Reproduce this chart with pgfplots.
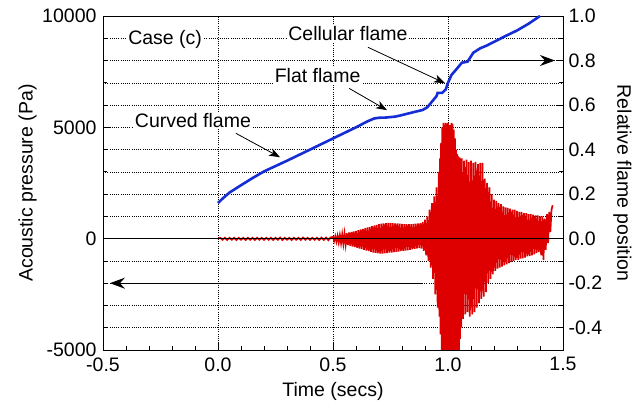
\documentclass[border=0pt]{standalone}
\usepackage{fontspec}
\setmainfont{Liberation Sans}
\usepackage{pgfplots}
\pgfplotsset{compat=1.18}
\usetikzlibrary{arrows.meta}
\definecolor{flameblue}{RGB}{20,45,215}
\definecolor{pred}{RGB}{222,0,0}
\newcommand{\lfont}{\fontsize{19.5}{21}\selectfont}
\pgfplotsset{
  common/.style={
    scale only axis, width=460pt, height=334pt,
    at={(0,0)}, anchor=south west,
    xmin=-0.5, xmax=1.5,
    tick align=inside,
    major tick length=7pt, minor tick length=4pt,
    every tick/.style={black, line width=0.8pt},
    axis line style={line width=0.9pt},
    tick label style={font=\lfont},
    scaled ticks=false,
    /pgf/number format/assume math mode=true,
  },
}
\begin{document}
\begin{tikzpicture}
\useasboundingbox (-103pt,-53pt) rectangle (531pt,350pt);
\begin{axis}[common,
    ymin=-5000, ymax=10000,
    xtick={-0.5,0,0.5,1,1.5},
    xticklabels={-0.5,0.0,0.5,1.0,1.5},
    minor x tick num=4,
    ytick={-5000,0,5000,10000},
    yticklabels={-5000,0,5000,10000},
    minor y tick num=4,
    xtick pos=bottom, ytick pos=left,
    xmajorgrids, ymajorgrids, yminorgrids,
    grid style={black, line width=0.6pt, dash pattern=on 1pt off 1.2pt},
    minor grid style={black, line width=0.5pt, dash pattern=on 1pt off 1.2pt},
    xticklabel style={yshift=-4pt},
    yticklabel style={xshift=-3pt},
    xlabel={Time (secs)},
    ylabel={Acoustic pressure (Pa)},
    every axis x label/.style={at={(axis description cs:0.5,-0.125)}, anchor=center, font=\lfont},
    every axis y label/.style={at={(axis description cs:-0.164,0.5)}, anchor=center, rotate=90, font=\lfont},
]
% acoustic pressure signal (Pa), oscillation read off the envelope
\addplot[pred, line width=1.7pt, line join=miter] coordinates {
(0.00,0) (0.01,40) (0.02,-50) (0.03,40) (0.04,-60) (0.05,40) (0.06,-50) (0.07,40)
(0.08,-60) (0.09,40) (0.10,-50) (0.11,40) (0.12,-60) (0.13,40) (0.14,-50) (0.15,40)
(0.16,-60) (0.17,40) (0.18,-50) (0.19,40) (0.20,-60) (0.21,40) (0.22,-50) (0.23,40)
(0.24,-60) (0.25,40) (0.26,-50) (0.27,50) (0.28,-60) (0.29,40) (0.30,-50) (0.31,40)
(0.32,-60) (0.33,40) (0.34,-50) (0.35,40) (0.36,-60) (0.37,50) (0.38,-50) (0.39,40)
(0.40,-60) (0.41,40) (0.42,-50) (0.43,40) (0.44,-60) (0.45,50) (0.46,-60) (0.47,50)
(0.48,-70) (0.49,60) (0.50,80)
(0.505,-100) (0.510,110) (0.515,-130) (0.520,130) (0.525,-170) (0.530,160) (0.535,-200)
(0.540,190) (0.545,-230) (0.550,220) (0.555,-260) (0.560,250) (0.565,-290) (0.570,280)
(0.575,-320) (0.580,300) (0.585,-350) (0.590,330) (0.595,-380) (0.600,350) (0.605,-410)
(0.610,380) (0.615,-440) (0.620,410) (0.625,-470) (0.630,440) (0.635,-500) (0.640,470)
(0.645,-530) (0.650,500) (0.655,-560) (0.660,530) (0.665,-590) (0.670,560) (0.675,-620)
(0.680,590) (0.685,-640) (0.690,620) (0.695,-660) (0.700,650) (0.705,-670) (0.710,670)
(0.715,-670) (0.720,690) (0.725,-660) (0.730,700) (0.735,-650) (0.740,710) (0.745,-630)
(0.750,700) (0.755,-620) (0.760,700) (0.765,-600) (0.770,690) (0.775,-590) (0.780,680)
(0.785,-580) (0.790,670) (0.795,-560) (0.800,660) (0.805,-550) (0.810,650) (0.815,-540)
(0.820,650) (0.825,-520) (0.830,650) (0.835,-500) (0.840,650) (0.845,-480) (0.850,660)
(0.855,-460) (0.860,670) (0.865,-440) (0.870,680) (0.875,-420) (0.880,700) (0.885,-450)
(0.890,750) (0.895,-550) (0.900,850)
(0.905,-750) (0.910,1000) (0.915,-1000) (0.920,1300) (0.925,-1300) (0.930,1600) (0.935,-1800)
(0.940,1900) (0.945,-2500) (0.950,2300) (0.955,-3100)
(0.9600,3000) (0.9625,-3500) (0.9650,3600) (0.9675,-4300) (0.9700,4300) (0.9725,-5000)
(0.9750,5000) (0.9775,-5500) (0.9800,5200) (0.9825,-5500) (0.9850,5100) (0.9875,-5500)
(0.9900,5200) (0.9925,-5500) (0.9950,5150) (0.9975,-5500) (1.0000,5200) (1.0025,-5500)
(1.0050,5100) (1.0075,-5500) (1.0100,5100) (1.0125,-5500) (1.0150,5200) (1.0175,-5500)
(1.0200,5150) (1.0225,-5500) (1.0250,4900) (1.0275,-5500) (1.0300,4500) (1.0325,-5500)
(1.0350,4000) (1.0375,-5500) (1.0400,3800) (1.0425,-5300) (1.0450,3700) (1.0475,-5000)
(1.0500,3650) (1.0525,-4500) (1.0550,3600) (1.0575,-4000) (1.0600,3600)
(1.065,-3600) (1.070,3500) (1.075,-3400)
(1.080,3550) (1.085,-3300) (1.090,3450) (1.095,-3500) (1.100,3500) (1.105,-3400) (1.110,3400)
(1.115,-3300) (1.120,3450) (1.125,-3100) (1.130,3350) (1.135,-2900) (1.140,3400) (1.145,-2700)
(1.150,3400) (1.155,-2600) (1.160,2700) (1.165,-2400) (1.170,2500) (1.175,-2000) (1.180,2300)
(1.185,-1800) (1.190,2000) (1.195,-1600) (1.200,1750) (1.205,-1450) (1.210,1700) (1.215,-1350)
(1.220,1600) (1.225,-1300) (1.230,1550) (1.235,-1250) (1.240,1450) (1.245,-1200) (1.250,1400)
(1.255,-1150) (1.260,1380) (1.265,-1100) (1.270,1350) (1.275,-1050) (1.280,1300) (1.285,-1000)
(1.290,1300) (1.295,-950) (1.300,1250) (1.305,-950) (1.310,1200) (1.315,-900) (1.320,1200)
(1.325,-880) (1.330,1150) (1.335,-850) (1.340,1150) (1.345,-800) (1.350,1100) (1.355,-780)
(1.360,1100) (1.365,-750) (1.370,1080) (1.375,-700) (1.380,1050) (1.385,-650) (1.390,1050)
(1.395,-600) (1.400,1000) (1.405,-750) (1.410,1000) (1.415,-950) (1.420,900) (1.425,-500)
(1.430,1100) (1.435,-200) (1.440,1200) (1.445,300) (1.450,1300) (1.455,1500)
};
\draw[black, line width=0.9pt] (axis cs:-0.5,0) -- (axis cs:1.5,0);
% axis pointers
\draw[black, line width=1.2pt, -{Stealth[length=15pt,width=11pt,inset=5pt]}]
  (axis cs:0.89,-2000) -- (axis cs:-0.47,-2000);
\draw[black, line width=1.2pt, -{Stealth[length=15pt,width=11pt,inset=5pt]}]
  (axis cs:1.11,8000) -- (axis cs:1.465,8000);
% annotations
\node[fill=white, inner sep=1.5pt, font=\lfont] at (axis cs:-0.23,8930) {Case (c)};
\node[fill=white, inner sep=1.5pt, font=\lfont] at (axis cs:0.565,9220) {Cellular flame};
\node[fill=white, inner sep=1.5pt, font=\lfont] at (axis cs:0.433,7340) {Flat flame};
\node[fill=white, inner sep=1.5pt, font=\lfont] at (axis cs:-0.109,5320) {Curved flame};
\draw[black, line width=0.8pt, -{Stealth[length=11pt,width=8pt,inset=3pt]}]
  (axis cs:0.078,4730) -- (axis cs:0.27,3655);
\draw[black, line width=0.8pt, -{Stealth[length=11pt,width=8pt,inset=3pt]}]
  (axis cs:0.57,6750) -- (axis cs:0.735,5770);
\draw[black, line width=0.8pt, -{Stealth[length=11pt,width=8pt,inset=3pt]}]
  (axis cs:0.652,8595) -- (axis cs:0.987,6980);
\end{axis}
\begin{axis}[common,
    ymin=-0.5, ymax=1.0,
    axis x line=none,
    axis y line*=right,
    ytick={-0.4,-0.2,0,0.2,0.4,0.6,0.8,1.0},
    yticklabels={-0.4,-0.2,0.0,0.2,0.4,0.6,0.8,1.0},
    minor y tick num=1,
    yticklabel style={xshift=2pt},
    ylabel={Relative flame position},
    every axis y label/.style={at={(axis description cs:1.129,0.5)}, anchor=center, rotate=-90, font=\lfont},
]
% relative flame position
\addplot[flameblue, line width=2.6pt] coordinates {
(0.00,0.160) (0.02,0.180) (0.05,0.207) (0.10,0.240) (0.15,0.272) (0.20,0.302)
(0.25,0.326) (0.30,0.350) (0.35,0.375) (0.40,0.400) (0.45,0.425) (0.50,0.450)
(0.55,0.475) (0.60,0.500) (0.65,0.527) (0.68,0.540) (0.70,0.543) (0.73,0.544)
(0.77,0.548) (0.80,0.555) (0.85,0.568) (0.89,0.578) (0.91,0.590) (0.93,0.615)
(0.95,0.640) (0.955,0.655) (0.975,0.655) (0.99,0.670) (1.00,0.700) (1.015,0.735)
(1.04,0.765) (1.06,0.790) (1.085,0.795) (1.11,0.835) (1.14,0.855) (1.17,0.868)
(1.25,0.910) (1.30,0.935) (1.35,0.965) (1.40,1.000)
};
\end{axis}
\end{tikzpicture}
\end{document}
